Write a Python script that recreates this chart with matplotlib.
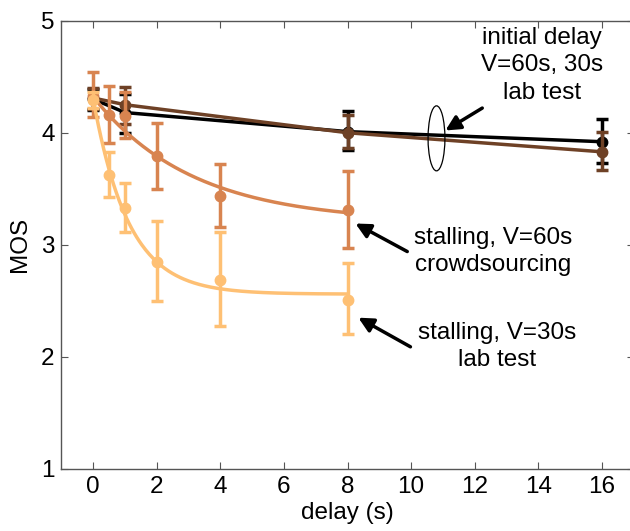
import numpy as np
import matplotlib
matplotlib.use("Agg")
import matplotlib.pyplot as plt
from matplotlib.patches import Ellipse

plt.rcParams['font.family'] = ['Liberation Sans', 'DejaVu Sans']

# --- data ---
x_init = [0, 1, 8, 16]
init60_y = [4.30, 4.18, 4.01, 3.92]
init60_lo = [4.20, 4.00, 3.85, 3.73]
init60_hi = [4.39, 4.35, 4.19, 4.12]
init30_y = [4.31, 4.25, 4.00, 3.83]
init30_lo = [4.21, 4.08, 3.86, 3.67]
init30_hi = [4.40, 4.41, 4.16, 4.01]

x_stall = [0, 0.5, 1, 2, 4, 8]
crowd_y = [4.33, 4.16, 4.15, 3.79, 3.44, 3.31]
crowd_lo = [4.14, 3.91, 3.95, 3.50, 3.16, 2.97]
crowd_hi = [4.54, 4.42, 4.36, 4.09, 3.72, 3.66]
lab_y = [4.29, 3.62, 3.33, 2.85, 2.69, 2.51]
lab_lo = [4.22, 3.43, 3.11, 2.50, 2.28, 2.20]
lab_hi = [4.36, 3.83, 3.55, 3.21, 3.11, 2.84]

# exponential fit parameters a*exp(-b*x)+c
crowd_fit = [1.12, 0.32, 3.20]
lab_fit = [1.74, 0.90, 2.56]

x_ticks = [0, 2, 4, 6, 8, 10, 12, 14, 16]
y_ticks = [1, 2, 3, 4, 5]

c_black = '#000000'
c_brown = '#6e4126'
c_orange = '#d88450'
c_light = '#fec074'

fig = plt.figure(figsize=(6.3, 5.31), dpi=100)
ax = fig.add_axes([0.0976, 0.1168, 0.908, 0.8443])


def err(y, lo, hi):
    y = np.asarray(y); return [y - np.asarray(lo), np.asarray(hi) - y]


eb_kw = dict(fmt='none', elinewidth=2.5, capsize=4, capthick=2.5)

# initial delay series (polyline)
ax.errorbar(x_init, init60_y, yerr=err(init60_y, init60_lo, init60_hi), ecolor=c_black, zorder=2, **eb_kw)
ax.plot(x_init, init60_y, '-o', color=c_black, lw=2.5, ms=7.5, zorder=2)
ax.errorbar(x_init, init30_y, yerr=err(init30_y, init30_lo, init30_hi), ecolor=c_brown, zorder=3, **eb_kw)
ax.plot(x_init, init30_y, '-o', color=c_brown, lw=2.5, ms=7.5, zorder=3)

xf = np.linspace(0, 8, 200)
a, b, c = crowd_fit
ax.errorbar(x_stall, crowd_y, yerr=err(crowd_y, crowd_lo, crowd_hi), ecolor=c_orange, zorder=4, **eb_kw)
ax.plot(xf, a * np.exp(-b * xf) + c, '-', color=c_orange, lw=2.5, zorder=4)
ax.plot(x_stall, crowd_y, 'o', color=c_orange, ms=7.5, zorder=4)

a, b, c = lab_fit
ax.errorbar(x_stall, lab_y, yerr=err(lab_y, lab_lo, lab_hi), ecolor=c_light, zorder=5, **eb_kw)
ax.plot(xf, a * np.exp(-b * xf) + c, '-', color=c_light, lw=2.5, zorder=5)
ax.plot(x_stall, lab_y, 'o', color=c_light, ms=7.5, zorder=5)

ax.set_xlim(-1, 17)
ax.set_ylim(1, 5)
ax.set_xticks(x_ticks)
ax.set_yticks(y_ticks)
ax.tick_params(direction='in', length=5, width=0.8, colors='#555555', labelcolor='black',
               labelsize=17.5, top=True, right=True, pad=5)
for s in ax.spines.values():
    s.set_color('#555555'); s.set_linewidth(1.0)
ax.set_xlabel('delay (s)', fontsize=17.5, labelpad=3)
ax.set_ylabel('MOS', fontsize=17.5, labelpad=7)

# annotations
ax.add_patch(Ellipse((10.80, 3.95), 0.53, 0.58, fill=False, lw=0.9, ec='black', zorder=6))
ap = dict(arrowstyle='-|>', lw=2.5, color='black', mutation_scale=22, shrinkA=0, shrinkB=0)
ax.annotate('', xy=(11.08, 4.02), xytext=(12.24, 4.22), arrowprops=ap, zorder=7)
ax.annotate('', xy=(8.25, 3.19), xytext=(9.88, 2.94), arrowprops=ap, zorder=7)
ax.annotate('', xy=(8.34, 2.35), xytext=(9.98, 2.09), arrowprops=ap, zorder=7)

ax.text(14.13, 4.60, 'initial delay\nV=60s, 30s\nlab test', ha='center', va='center', fontsize=17.5, linespacing=1.3)
ax.text(12.59, 2.94, 'stalling, V=60s\ncrowdsourcing', ha='center', va='center', fontsize=17.5, linespacing=1.3)
ax.text(12.71, 2.09, 'stalling, V=30s\nlab test', ha='center', va='center', fontsize=17.5, linespacing=1.3)

fig.savefig('out.png', dpi=100)
